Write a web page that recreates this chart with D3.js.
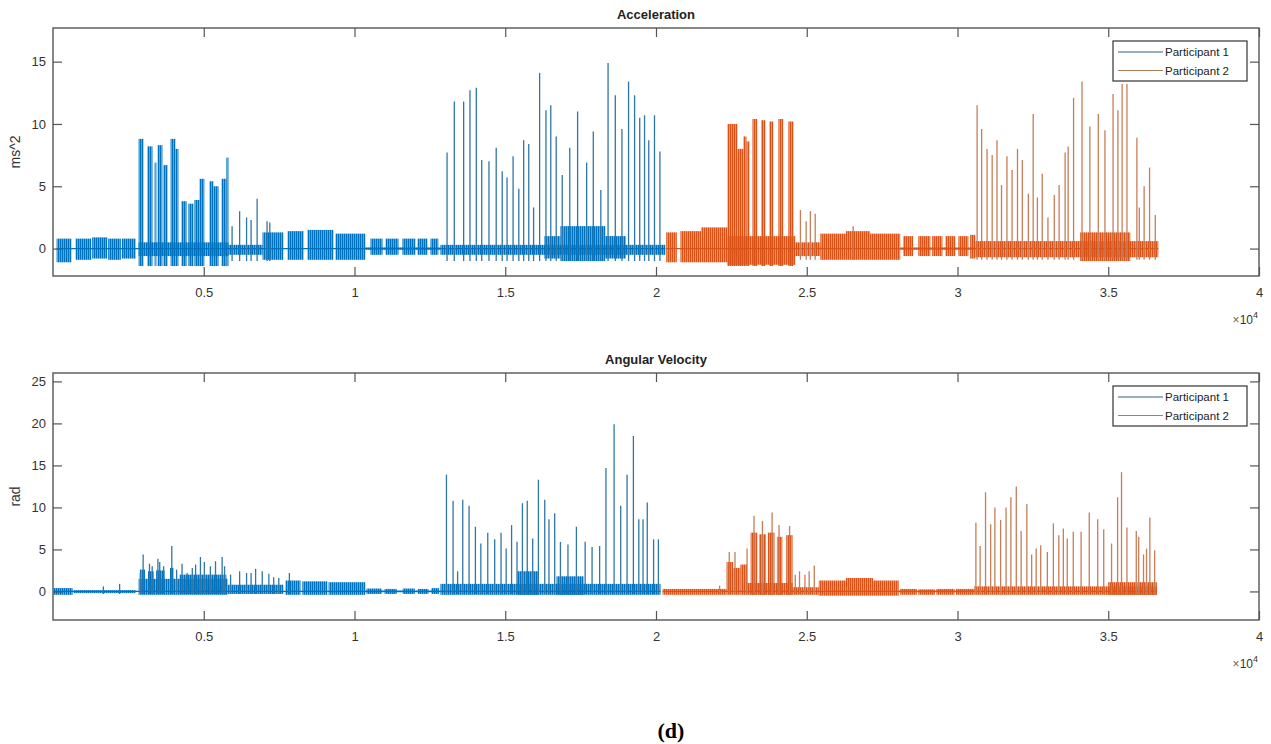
<!DOCTYPE html>
<html>
<head>
<meta charset="utf-8">
<script src="https://cdn.jsdelivr.net/npm/d3@7"></script>
<style>
  body { margin: 0; background: #fff; }
  text { font-family: "Liberation Sans", Arial, sans-serif; }
</style>
</head>
<body>
<div id="chart"></div>
<script>
// sample index on x (x 10^4)
const xTicks = [5000, 10000, 15000, 20000, 25000, 30000, 35000, 40000];
const accTicks = [0, 5, 10, 15];
const gyrTicks = [0, 5, 10, 15, 20, 25];
const seriesNames = ['Participant 1', 'Participant 2'];

// dense stretches of signal: [start, end, low, high]
const accP1Bands = [
  [120, 610, -1.1, 0.8], [750, 1270, -0.9, 0.8], [1300, 1800, -0.8, 0.9],
  [1830, 2250, -0.9, 0.8], [2280, 2740, -0.8, 0.8], [2840, 5820, -0.6, 0.5],
  [2840, 3000, -1.4, 8.8], [3130, 3300, -1.4, 8.2], [3370, 3430, -1.4, 6.9],
  [3470, 3630, -1.4, 8.3], [3660, 3800, -1.4, 6.7], [3900, 4060, -1.4, 8.8],
  [4060, 4160, -1.4, 8.0], [4260, 4430, -1.4, 3.8], [4490, 4660, -1.4, 3.6],
  [4690, 4860, -1.4, 3.9], [4860, 5020, -1.4, 5.6], [5190, 5320, -1.4, 5.4],
  [5320, 5490, -1.4, 5.0], [5590, 5750, -1.4, 5.6], [5750, 5820, -1.4, 7.3],
  [5820, 6950, -0.5, 0.3], [6950, 7640, -0.9, 1.3], [7780, 8310, -0.9, 1.4],
  [8440, 9300, -0.9, 1.5], [9370, 10360, -0.9, 1.2], [10360, 12850, -0.1, 0.1],
  [10530, 10930, -0.5, 0.8], [11030, 11460, -0.5, 0.8], [11590, 12020, -0.5, 0.8],
  [12090, 12420, -0.5, 0.8], [12520, 12780, -0.5, 0.8], [12850, 20310, -0.5, 0.3],
  [16300, 16830, -0.8, 1.0], [16830, 18320, -1.0, 1.8], [18320, 19000, -0.8, 1.0]
];
// single peaks: [x, peak]
const accP1Spikes = [
  [5940, 1.8], [6190, 3.0], [6420, 2.5], [6570, 2.3], [6770, 4.0], [7100, 2.2], [7190, 2.1],
  [13070, 7.7], [13310, 11.8], [13620, 11.8], [13830, 12.7], [14040, 12.9], [14220, 7.1],
  [14460, 7.0], [14700, 8.1], [14900, 6.2], [15060, 5.7], [15260, 7.4], [15450, 4.8],
  [15610, 8.7], [15780, 8.4], [15940, 3.3], [16140, 14.1], [16350, 11.1], [16510, 11.5],
  [16690, 9.0], [16890, 5.9], [17140, 8.1], [17400, 11.0], [17700, 6.9], [17920, 9.4],
  [18170, 4.7], [18410, 14.9], [18650, 12.3], [18870, 9.6], [19090, 13.4], [19290, 12.3],
  [19460, 10.5], [19620, 10.7], [19760, 8.7], [19950, 10.7], [20130, 7.8]
];
const accP1SpikeLow = -1.0;

const accP2Bands = [
  [20340, 20690, -1.1, 1.3], [20810, 21500, -1.1, 1.4], [21500, 22370, -1.1, 1.7],
  [22370, 24620, -1.3, 1.0], [22370, 22700, -1.4, 10.0], [22700, 22900, -1.4, 8.0],
  [22900, 23000, -1.4, 9.0], [23000, 23100, -1.4, 8.6], [23200, 23360, -1.4, 10.4],
  [23490, 23630, -1.4, 10.3], [23760, 23890, -1.4, 10.2], [24060, 24220, -1.4, 10.4],
  [24390, 24560, -1.4, 10.2], [24620, 25450, -0.6, 0.5], [25450, 26300, -0.9, 1.2],
  [26300, 27100, -0.9, 1.4], [27100, 28100, -0.9, 1.2], [28100, 30590, -0.1, 0.1],
  [28200, 28530, -0.6, 1.0], [28700, 29100, -0.6, 1.0], [29160, 29500, -0.6, 1.0],
  [29600, 29930, -0.6, 1.0], [30030, 30360, -0.6, 1.0], [30420, 30590, -0.8, 1.1],
  [30590, 36660, -0.7, 0.6], [34070, 35730, -1.0, 1.3]
];
const accP2Spikes = [
  [24790, 3.1], [24980, 2.2], [25120, 3.0], [25280, 2.8], [26540, 1.8],
  [30650, 11.5], [30800, 9.6], [30980, 8.0], [31150, 7.5], [31310, 8.7], [31460, 5.1],
  [31640, 7.4], [31810, 6.3], [31990, 8.0], [32150, 7.1], [32350, 4.4], [32510, 10.8],
  [32650, 4.1], [32810, 6.0], [33000, 2.5], [33210, 4.3], [33370, 5.1], [33570, 7.7],
  [33670, 8.2], [33850, 12.1], [34130, 13.4], [34390, 9.8], [34670, 10.8], [34890, 9.5],
  [35160, 12.4], [35320, 11.1], [35460, 13.2], [35620, 13.2], [35950, 8.9], [36030, 3.3],
  [36190, 5.0], [36370, 6.5], [36560, 2.7]
];
const accP2SpikeLow = -0.9;

const gyrP1Bands = [
  [20, 650, -0.4, 0.4], [680, 2740, -0.2, 0.15], [2840, 5790, -0.4, 1.5],
  [2880, 3050, -0.3, 2.6], [3150, 3350, -0.3, 2.4], [3420, 3700, -0.3, 2.5],
  [3880, 4000, -0.3, 2.8], [4200, 5750, -0.3, 2.0], [5790, 7640, -0.3, 0.8],
  [7710, 8210, -0.4, 1.3], [8270, 9100, -0.4, 1.2], [9140, 10360, -0.4, 1.1],
  [10360, 12850, -0.1, 0.1], [10400, 10900, -0.3, 0.35], [11000, 11400, -0.3, 0.3],
  [11600, 12000, -0.3, 0.35], [12100, 12450, -0.3, 0.3], [12550, 12800, -0.3, 0.4],
  [12850, 20150, -0.4, 0.9], [15400, 16100, -0.4, 2.4], [16700, 17600, -0.4, 1.8]
];
const gyrP1Spikes = [
  [1670, 0.6], [2210, 0.9], [2900, 2.2], [2990, 4.4], [3200, 3.3], [3290, 3.0],
  [3480, 3.9], [3540, 3.5], [3670, 3.0], [3940, 5.4], [4100, 2.6], [4280, 3.3],
  [4450, 2.2], [4620, 2.8], [4730, 3.2], [4890, 4.1], [5020, 3.5], [5220, 3.0],
  [5390, 3.6], [5610, 4.1], [5690, 3.0], [5890, 2.0], [6190, 2.4], [6420, 2.2],
  [6570, 2.2], [6720, 2.7], [6940, 2.4], [7160, 2.1], [7320, 1.7], [7490, 1.6],
  [7840, 2.2],
  [13050, 13.9], [13270, 10.8], [13420, 2.4], [13590, 10.9], [13800, 10.2], [14010, 7.7],
  [14190, 5.7], [14420, 7.0], [14650, 6.2], [14860, 7.0], [15030, 5.1], [15210, 7.9],
  [15390, 5.9], [15570, 10.5], [15730, 10.8], [15910, 6.3], [16100, 13.3], [16310, 10.9],
  [16450, 8.6], [16640, 9.3], [16830, 5.9], [17080, 5.6], [17360, 7.7], [17650, 5.9],
  [17880, 5.3], [18130, 5.4], [18340, 14.7], [18610, 19.9], [18830, 10.2], [19040, 13.9],
  [19250, 18.5], [19430, 8.6], [19570, 8.6], [19710, 10.6], [19920, 6.2], [20080, 6.2]
];
const gyrP1SpikeLow = -0.3;

const gyrP2Bands = [
  [20220, 22340, -0.4, 0.3], [22340, 22560, -0.4, 3.5], [22560, 22800, -0.4, 2.8],
  [22800, 23020, -0.4, 3.2], [23020, 24530, -0.4, 1.0], [23140, 23360, -0.4, 7.0],
  [23420, 23650, -0.4, 6.8], [23710, 23930, -0.4, 7.0], [24010, 24190, -0.4, 6.5],
  [24320, 24530, -0.4, 6.7], [24530, 25400, -0.4, 0.5], [25400, 26300, -0.5, 1.3],
  [26300, 27200, -0.5, 1.6], [27200, 28050, -0.5, 1.3], [28050, 30560, -0.1, 0.1],
  [28100, 28650, -0.4, 0.3], [28700, 29250, -0.4, 0.25], [29300, 29900, -0.4, 0.3],
  [29950, 30560, -0.4, 0.3], [30560, 36610, -0.4, 0.6], [35000, 36610, -0.4, 1.1]
];
const gyrP2Spikes = [
  [22110, 0.7], [22430, 4.7], [22620, 4.7], [23020, 5.1], [23250, 9.0], [23530, 8.4],
  [23850, 9.4], [24080, 7.9], [24430, 7.8], [24620, 2.0], [24760, 2.4], [24940, 2.0],
  [25080, 2.4], [25250, 3.1],
  [30610, 8.2], [30750, 5.4], [30930, 11.8], [31100, 8.0], [31240, 10.0], [31430, 8.5],
  [31610, 10.0], [31770, 11.2], [31950, 12.5], [32110, 7.2], [32300, 10.4], [32460, 4.4],
  [32610, 5.1], [32760, 5.5], [32980, 4.7], [33180, 8.1], [33360, 6.7], [33510, 7.5],
  [33640, 6.3], [33840, 7.1], [34100, 7.1], [34370, 9.4], [34650, 8.6], [34850, 7.4],
  [35110, 5.7], [35310, 11.2], [35440, 14.2], [35620, 7.6], [35930, 7.2], [36010, 6.5],
  [36170, 4.4], [36270, 5.1], [36380, 8.8], [36540, 4.9]
];
const gyrP2SpikeLow = -0.3;

const width = 1271;
const height = 744;
const plotLeft = 53;
const plotRight = 1259;
const tickLen = 9;
const axisColor = '#555555';
const textColor = '#333333';
const colors = ['#0072BD', '#D95319'];
const spikeColors = ['#2f76a8', '#c77d58'];
const legendColors = ['#2f6479', '#a9805f'];

const svg = d3.select('#chart')
  .append('svg')
  .attr('width', width)
  .attr('height', height);

svg.append('rect')
  .attr('width', width)
  .attr('height', height)
  .attr('fill', '#fff');

// striped fill so the dense stretches read as an oscillating trace, not a slab
const defs = svg.append('defs');
colors.forEach((c, i) => {
  const p = defs.append('pattern')
    .attr('id', `trace-${i}`)
    .attr('patternUnits', 'userSpaceOnUse')
    .attr('width', 2)
    .attr('height', 4);
  p.append('rect')
    .attr('width', 2)
    .attr('height', 4)
    .attr('fill', c)
    .attr('opacity', 0.55);
  p.append('rect')
    .attr('width', 1.2)
    .attr('height', 4)
    .attr('fill', c);
});

function drawPanel({top, bottom, title, ylabel, yDomain, yTicks, series, id}) {
  const xScale = d3.scaleLinear().domain([0, 40000]).range([plotLeft, plotRight]);
  const yScale = d3.scaleLinear().domain(yDomain).range([bottom, top]);

  svg.append('clipPath')
    .attr('id', `clip-${id}`)
    .append('rect')
    .attr('x', plotLeft)
    .attr('y', top)
    .attr('width', plotRight - plotLeft)
    .attr('height', bottom - top);

  const plot = svg.append('g').attr('clip-path', `url(#clip-${id})`);

  series.forEach((s, i) => {
    plot.append('g')
      .selectAll('rect')
      .data(s.bands)
      .join('rect')
      .attr('x', d => xScale(d[0]))
      .attr('width', d => Math.max(1, xScale(d[1]) - xScale(d[0])))
      .attr('y', d => yScale(d[3]))
      .attr('height', d => yScale(d[2]) - yScale(d[3]))
      .attr('fill', `url(#trace-${i})`);

    // thin zero trace through each participant's recording
    const ext = d3.extent(s.bands.flatMap(d => [d[0], d[1]]));
    plot.append('line')
      .attr('x1', xScale(ext[0]))
      .attr('x2', xScale(ext[1]))
      .attr('y1', yScale(0))
      .attr('y2', yScale(0))
      .attr('stroke', colors[i])
      .attr('stroke-width', 1.2);

    plot.append('g')
      .selectAll('line')
      .data(s.spikes)
      .join('line')
      .attr('x1', d => xScale(d[0]))
      .attr('x2', d => xScale(d[0]))
      .attr('y1', yScale(s.low))
      .attr('y2', d => yScale(d[1]))
      .attr('stroke', spikeColors[i])
      .attr('stroke-width', 1.3);
  });

  // axes, MATLAB style: ticks pointing in on all four sides
  const xAxis = svg.append('g')
    .attr('transform', `translate(0, ${bottom})`)
    .call(d3.axisBottom(xScale).tickValues(xTicks).tickSizeInner(-tickLen)
      .tickSizeOuter(0).tickPadding(12).tickFormat(d => d / 1e4));
  const xTop = svg.append('g')
    .attr('transform', `translate(0, ${top})`)
    .call(d3.axisTop(xScale).tickValues(xTicks).tickSizeInner(-tickLen)
      .tickSizeOuter(0).tickFormat(''));
  const yAxis = svg.append('g')
    .attr('transform', `translate(${plotLeft}, 0)`)
    .call(d3.axisLeft(yScale).tickValues(yTicks).tickSizeInner(-tickLen)
      .tickSizeOuter(0).tickPadding(7));
  const yRight = svg.append('g')
    .attr('transform', `translate(${plotRight}, 0)`)
    .call(d3.axisRight(yScale).tickValues(yTicks).tickSizeInner(-tickLen)
      .tickSizeOuter(0).tickFormat(''));

  [xAxis, xTop, yAxis, yRight].forEach(a => {
    a.select('.domain').remove();
    a.selectAll('line').attr('stroke', axisColor).attr('stroke-width', 1.2);
    a.selectAll('text')
      .attr('fill', textColor)
      .style('font-size', '13px')
      .style('font-family', '"Liberation Sans", Arial, sans-serif');
  });

  svg.append('rect')
    .attr('x', plotLeft)
    .attr('y', top)
    .attr('width', plotRight - plotLeft)
    .attr('height', bottom - top)
    .attr('fill', 'none')
    .attr('stroke', axisColor)
    .attr('stroke-width', 1.4);

  svg.append('text')
    .attr('x', (plotLeft + plotRight) / 2)
    .attr('y', top - 9)
    .attr('text-anchor', 'middle')
    .attr('fill', '#222')
    .style('font-size', '13px')
    .style('font-weight', 'bold')
    .text(title);

  svg.append('text')
    .attr('transform', `translate(20, ${(top + bottom) / 2}) rotate(-90)`)
    .attr('text-anchor', 'middle')
    .attr('fill', textColor)
    .style('font-size', '14px')
    .text(ylabel);

  const expo = svg.append('text')
    .attr('x', 1258)
    .attr('y', bottom + 48)
    .attr('text-anchor', 'end')
    .attr('fill', textColor)
    .style('font-size', '12px');
  expo.append('tspan').attr('fill', '#666').text('\u00d7');
  expo.append('tspan').text('10');
  expo.append('tspan').attr('dy', -6).style('font-size', '9px').text('4');

  // legend
  const lg = svg.append('g').attr('transform', `translate(1113, ${top + 13})`);
  lg.append('rect')
    .attr('width', 134)
    .attr('height', 40)
    .attr('fill', '#fff')
    .attr('stroke', '#333')
    .attr('stroke-width', 1.2);
  seriesNames.forEach((name, i) => {
    const row = lg.append('g').attr('transform', `translate(0, ${11 + i * 18.5})`);
    row.append('line')
      .attr('x1', 5).attr('x2', 50)
      .attr('stroke', legendColors[i])
      .attr('stroke-width', 1.2);
    row.append('text')
      .attr('x', 52)
      .attr('dy', '0.35em')
      .attr('fill', '#222')
      .style('font-size', '11.5px')
      .text(name);
  });
}

drawPanel({
  id: 'acc',
  top: 28,
  bottom: 276,
  title: 'Acceleration',
  ylabel: 'ms^2',
  yDomain: [-2.2, 17.7],
  yTicks: accTicks,
  series: [
    {bands: accP1Bands, spikes: accP1Spikes, low: accP1SpikeLow},
    {bands: accP2Bands, spikes: accP2Spikes, low: accP2SpikeLow}
  ]
});

drawPanel({
  id: 'gyr',
  top: 373,
  bottom: 620,
  title: 'Angular Velocity',
  ylabel: 'rad',
  yDomain: [-3.4, 26],
  yTicks: gyrTicks,
  series: [
    {bands: gyrP1Bands, spikes: gyrP1Spikes, low: gyrP1SpikeLow},
    {bands: gyrP2Bands, spikes: gyrP2Spikes, low: gyrP2SpikeLow}
  ]
});

svg.append('text')
  .attr('x', 671)
  .attr('y', 738)
  .attr('text-anchor', 'middle')
  .attr('fill', '#000')
  .style('font-family', '"Liberation Serif", "Times New Roman", serif')
  .style('font-size', '22px')
  .style('font-weight', 'bold')
  .text('(d)');
</script>
</body>
</html>
